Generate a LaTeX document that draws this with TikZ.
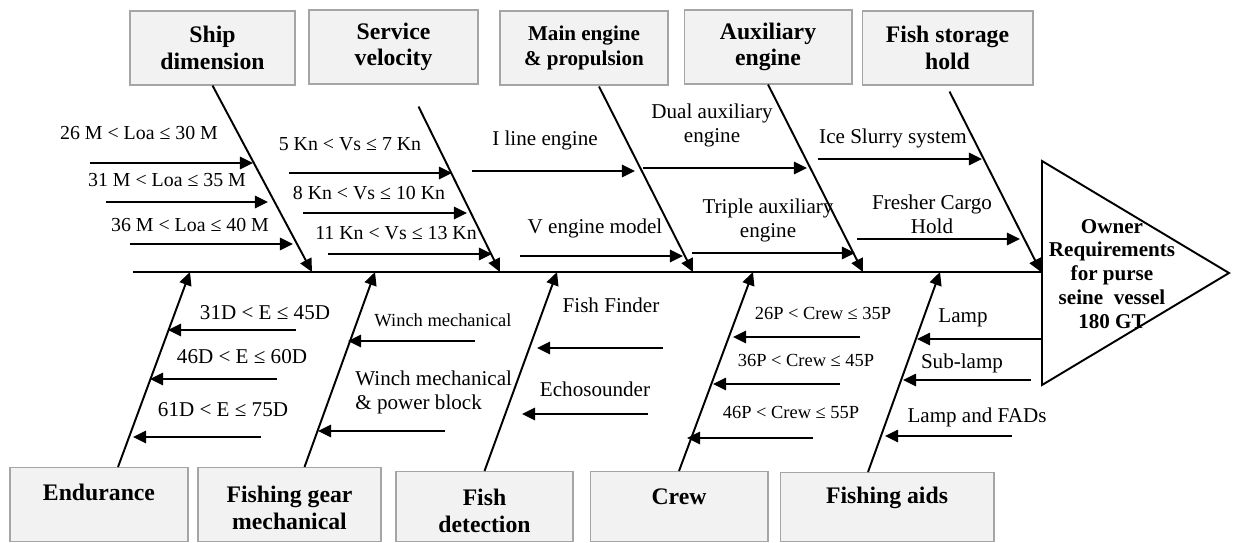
\documentclass[tikz,border=0pt]{standalone}
\usepackage{fontspec}
\setmainfont{Liberation Serif}
\usepackage{tikz}
\usetikzlibrary{positioning, calc, arrows.meta}

\definecolor{boxfill}{RGB}{242,242,242}
\definecolor{boxline}{RGB}{165,165,165}

\begin{document}
\begin{tikzpicture}[x=0.02cm, y=-0.02cm, >={Triangle[length=7.5pt,width=7pt]},
        cause/.style={draw=boxline, fill=boxfill, line width=0.6pt, minimum width=3.36cm,
            minimum height=1.48cm, inner sep=0pt, align=center,
            font=\fontsize{13.5}{15}\selectfont\bfseries},
        title/.style={inner sep=0pt, align=center, font=\fontsize{13.5}{15.5}\selectfont\bfseries},
        bone/.style={->, line width=1.1pt},
        twig/.style={->, line width=1.3pt},
        lbl/.style={inner sep=0pt, align=center, font=\fontsize{12}{13.7}\selectfont},
        ineq/.style={lbl, font=\fontsize{11.3}{13}\selectfont},
        note/.style={lbl, font=\fontsize{10.5}{12}\selectfont}]
    \useasboundingbox (0,0) rectangle (1233,542);

    % Cause boxes, top row
    \node[cause, minimum width=3.3cm] (ship) at (212.5,48) {Ship\\dimension};
    \node[cause, minimum width=3.38cm] (serv) at (393.5,47) {Service\\velocity};
    \node[cause, font=\fontsize{12}{14.2}\selectfont\bfseries] (main) at (584,48) {Main engine\\\& propulsion};
    \node[cause] (aux) at (768,47) {Auxiliary\\engine};
    \node[cause, minimum width=3.42cm] (hold) at (947.5,48) {Fish storage\\hold};

    % Cause boxes, bottom row (cut by the page edge)
    \node[cause, anchor=north, minimum width=3.56cm] (endu) at (99,467) {};
    \node[cause, anchor=north, minimum width=3.66cm] (gear) at (289.5,467) {};
    \node[cause, anchor=north, minimum width=3.54cm, minimum height=1.4cm] (detect) at (484.5,471) {};
    \node[cause, anchor=north, minimum width=3.56cm, minimum height=1.4cm] (crew) at (679,471) {};
    \node[cause, anchor=north, minimum width=4.28cm, minimum height=1.38cm] (aids) at (887,472) {};

    \node[title] (endutxt) at ($(endu.north)+(0,25)$) {Endurance};
    \node[title] (geartxt) at ($(gear.north)+(0,40.5)$) {Fishing gear\\mechanical};
    \node[title] (detecttxt) at ($(detect.north)+(0,40)$) {Fish\\detection};
    \node[title] (crewtxt) at ($(crew.north)+(0,26)$) {Crew};
    \node[title] (aidstxt) at ($(aids.north)+(0,26)$) {Fishing aids};

    % Head of the fish
    \coordinate (htop) at (1042,161);
    \coordinate (hbot) at (1042,385);
    \coordinate (htip) at (1229,273);
    \draw[line width=1.1pt] (htop) -- (htip) -- (hbot) -- cycle;
    \node[title, font=\fontsize{12}{13.6}\selectfont\bfseries] (owner) at (1112,274)
        {Owner\\Requirements\\for purse\\seine\ \ vessel\\180 GT};

    % Spine
    \coordinate (tail) at (133,272);
    \coordinate (mouth) at (1042,272);
    \draw[line width=0.6pt] (tail) -- (mouth);

    % Joints on the spine
    \foreach \n/\x in {j1/312, j2/500, j3/693, j4/863, j5/1041,
                       k1/190, k2/375, k3/557, k4/753, k5/940}
        \coordinate (\n) at (\x,272);

    % Main bones
    \draw[bone] (ship.south) -- (j1);
    \draw[bone] ($(serv.south)+(25,22)$) -- (j2);
    \draw[bone] ($(main.south)+(15,1)$) -- (j3);
    \draw[bone] (aux.south) -- (j4);
    \draw[bone] ($(hold.south)+(2,6)$) -- (j5);
    \draw[bone] ($(endu.north)+(19,0)$) -- (k1);
    \draw[bone] ($(gear.north)+(15,0)$) -- (k2);
    \draw[bone] (detect.north) -- (k3);
    \draw[bone] (crew.north) -- (k4);
    \draw[bone] ($(aids.north)+(-19,0)$) -- (k5);

    % Small bones
    \foreach \n/\xa/\xb/\y in {t11/90/253/163, t12/106/268/202, t13/130/293/244,
            t21/289/452/173, t22/303/467/213, t23/328/492/254,
            t31/472/635/171, t32/520/683/256, t41/643/807/168, t42/692/855/253,
            t51/818/982/159, t52/857/1020/239,
            u11/296/168/330, u12/277/150/379, u13/261/133/437,
            u21/475/348/341, u22/445/318/431, u31/663/537/348, u32/648/522/414,
            u41/860/733/337, u42/840/713/384, u43/813/687/438,
            u51/1042/917/339, u52/1031/903/380, u53/1012/885/436} {
        \coordinate (\n-s) at (\xa,\y);
        \coordinate (\n-e) at (\xb,\y);
        \draw[twig] (\n-s) -- (\n-e);
    }

    % Labels, top half
    \node[ineq] (l11) at (139,133) {26 M < Loa ≤ 30 M};
    \node[ineq] (l12) at (167,180) {31 M < Loa ≤ 35 M};
    \node[ineq] (l13) at (190,225) {36 M < Loa ≤ 40 M};
    \node[ineq] (l21) at (350,144) {5 Kn < Vs ≤ 7 Kn};
    \node[ineq] (l22) at (369,193) {8 Kn < Vs ≤ 10 Kn};
    \node[ineq] (l23) at (396,233) {11 Kn < Vs ≤ 13 Kn};
    \node[lbl] (l31) at (545,140) {I line engine};
    \node[lbl] (l32) at (595,228) {V engine model};
    \node[lbl] (l41) at (712,125) {Dual auxiliary\\engine};
    \node[lbl] (l42) at (768,220) {Triple auxiliary\\engine};
    \node[lbl] (l51) at (893,138) {Ice Slurry system};
    \node[lbl] (l52) at (932,214) {Fresher Cargo\\Hold};

    % Labels, bottom half
    \node[lbl] (m11) at (265,313) {31D < E ≤ 45D};
    \node[lbl] (m12) at (242,357) {46D < E ≤ 60D};
    \node[lbl] (m13) at (223,410) {61D < E ≤ 75D};
    \node[note] (m21) at (443,320) {Winch mechanical};
    \node[lbl, anchor=west, align=left] (m22) at (355,392.5) {Winch mechanical\\\& power block};
    \node[lbl] (m31) at (611,305) {Fish Finder};
    \node[lbl] (m32) at (595,389) {Echosounder};
    \node[note] (m41) at (823,313) {26P < Crew ≤ 35P};
    \node[note] (m42) at (806,360) {36P < Crew ≤ 45P};
    \node[note] (m43) at (791,412) {46P < Crew ≤ 55P};
    \node[lbl] (m51) at (963,318) {Lamp};
    \node[lbl] (m52) at (962,363) {Sub-lamp};
    \node[lbl] (m53) at (977,417) {Lamp and FADs};
\end{tikzpicture}
\end{document}
